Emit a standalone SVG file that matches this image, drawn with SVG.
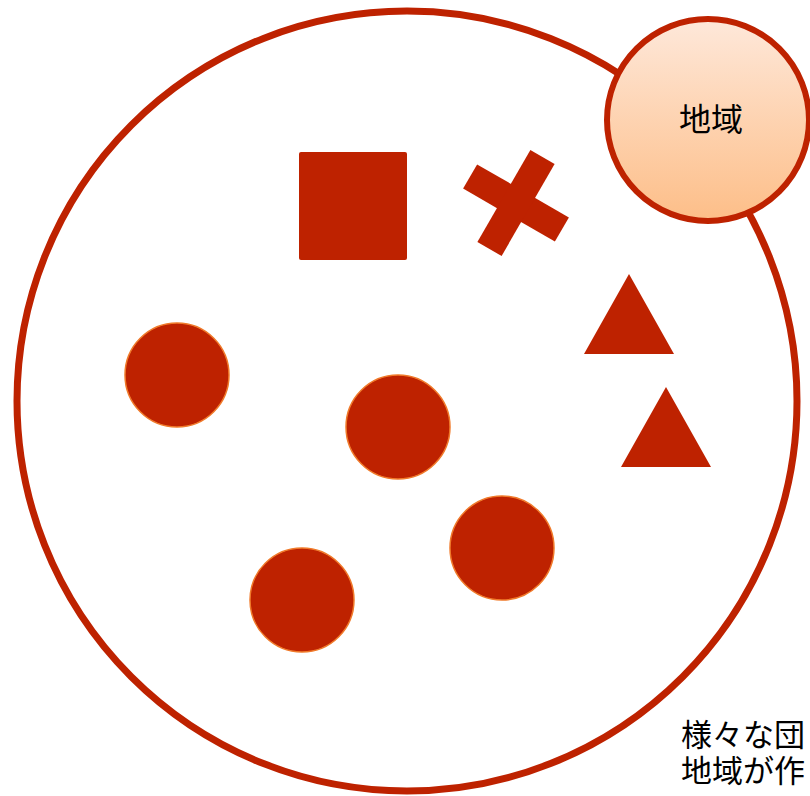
<svg xmlns="http://www.w3.org/2000/svg" width="810" height="796" viewBox="0 0 810 796">
<defs>
<linearGradient id="g" x1="0" y1="0" x2="0" y2="1">
<stop offset="0" stop-color="#FEE8DA"/>
<stop offset="1" stop-color="#FDBE88"/>
</linearGradient>
<style>
.f{fill:#BE2200}
.dot{fill:#BE2200;stroke:#F07A2A;stroke-width:1.5}
.t{font-family:"Noto Sans CJK JP","Noto Sans",sans-serif;fill:#000}
</style>
</defs>
<rect width="810" height="796" fill="#fff"/>
<g id="region-big">
<circle cx="407" cy="401" r="390" fill="#fff" stroke="#BE2200" stroke-width="7"/>
</g>
<g id="square"><rect class="f" x="299" y="152" width="108" height="108" rx="2"/></g>
<g id="cross" transform="translate(516 203) rotate(30)">
<rect class="f" x="-53" y="-14" width="106" height="28"/>
<rect class="f" x="-14" y="-53" width="28" height="106"/>
</g>
<g id="tri1"><polygon class="f" points="629,274 584,354 674,354"/></g>
<g id="tri2"><polygon class="f" points="666,387 621,467 711,467"/></g>
<g id="c1"><circle class="dot" cx="177" cy="375" r="52"/></g>
<g id="c2"><circle class="dot" cx="398" cy="427" r="52"/></g>
<g id="c3"><circle class="dot" cx="502" cy="548" r="52"/></g>
<g id="c4"><circle class="dot" cx="302" cy="600" r="52"/></g>
<g id="region-label">
<circle cx="708" cy="120" r="101" fill="url(#g)" stroke="#BE2200" stroke-width="6"/>
<text class="t" x="711" y="131" font-size="32" text-anchor="middle">地域</text>
</g>
<g id="caption">
<text class="t" font-size="31"><tspan x="681" y="746">様々な団</tspan><tspan x="681" y="782">地域が作</tspan></text>
</g>
</svg>
